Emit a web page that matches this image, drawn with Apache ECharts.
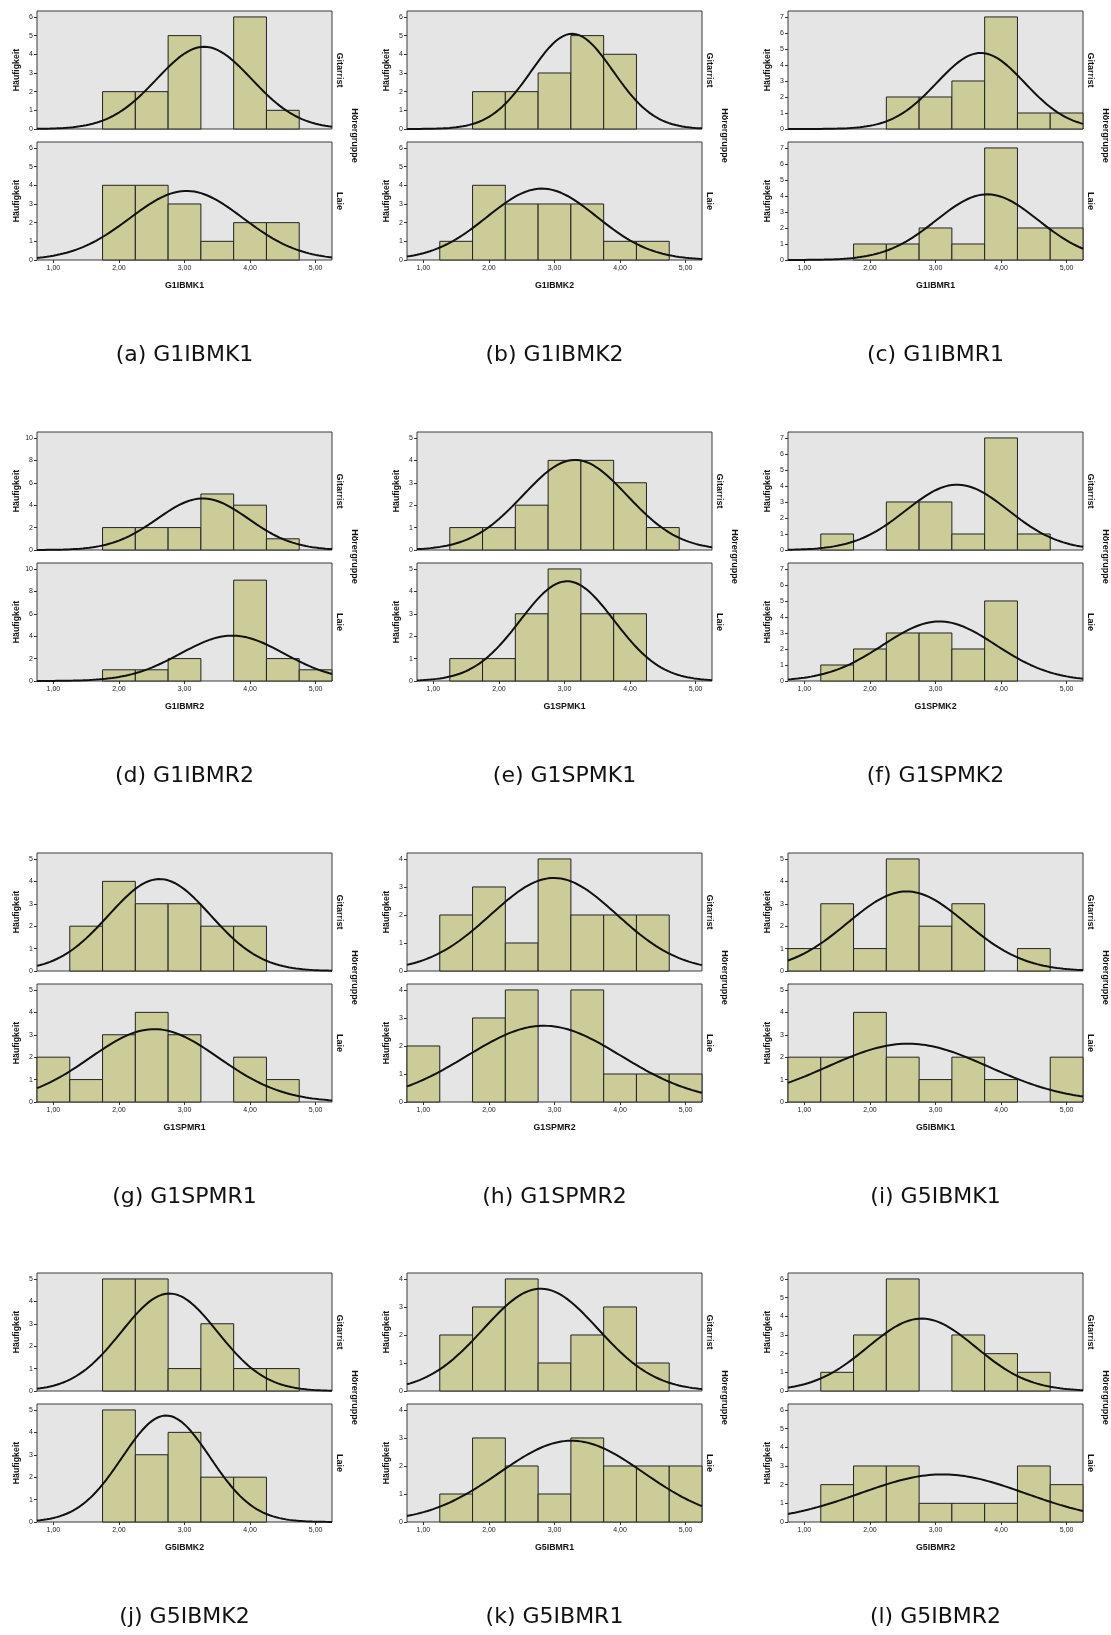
<!DOCTYPE html>
<html>
<head>
<meta charset="utf-8">
<script src="https://cdn.jsdelivr.net/npm/echarts@6/dist/echarts.min.js"></script>
<style>
html,body{margin:0;padding:0;background:#fff;}
#chart{width:1111px;height:1635px;}
</style>
</head>
<body>
<div id="chart"></div>
<script>
// ---------------- DATA ----------------
const binWidth = 0.5;
const binCenters = [1.0, 1.5, 2.0, 2.5, 3.0, 3.5, 4.0, 4.5, 5.0];
const xTickValues = [1, 2, 3, 4, 5];
const variableNames = ['G1IBMK1','G1IBMK2','G1IBMR1','G1IBMR2','G1SPMK1','G1SPMK2','G1SPMR1','G1SPMR2','G5IBMK1','G5IBMK2','G5IBMR1','G5IBMR2'];
const captionLetters = ['a','b','c','d','e','f','g','h','i','j','k','l'];
const groupNames = ['Gitarrist', 'Laie'];
const facetTitle = 'Hörergruppe';
const yAxisTitle = 'Häufigkeit';

const gitarristCounts = [
  [0,0,2,2,5,0,6,1,0],
  [0,0,2,2,3,5,4,0,0],
  [0,0,0,2,2,3,7,1,1],
  [0,0,2,2,2,5,4,1,0],
  [0,1,1,2,4,4,3,1,0],
  [0,1,0,3,3,1,7,1,0],
  [0,2,4,3,3,2,2,0,0],
  [0,2,3,1,4,2,2,2,0],
  [1,3,1,5,2,3,0,1,0],
  [0,0,5,5,1,3,1,1,0],
  [0,2,3,4,1,2,3,1,0],
  [0,1,3,6,0,3,2,1,0]
];
const laieCounts = [
  [0,0,4,4,3,1,2,2,0],
  [0,1,4,3,3,3,1,1,0],
  [0,0,1,1,2,1,7,2,2],
  [0,0,1,1,2,0,9,2,1],
  [0,1,1,3,5,3,3,0,0],
  [0,1,2,3,3,2,5,0,0],
  [2,1,3,4,3,0,2,1,0],
  [2,0,3,4,0,4,1,1,1],
  [2,2,4,2,1,2,1,0,2],
  [0,0,5,3,4,2,2,0,0],
  [0,1,3,2,1,3,2,2,2],
  [0,2,3,3,1,1,1,3,2]
];
// fitted normal curves (mean / standard deviation)
const gitarristMean = [3.30, 3.27, 3.69, 3.28, 3.16, 3.33, 2.62, 2.99, 2.56, 2.77, 2.79, 2.79];
const gitarristSD   = [0.725, 0.626, 0.672, 0.694, 0.794, 0.782, 0.778, 0.961, 0.899, 0.734, 0.874, 0.823];
const laieMean      = [3.03, 2.81, 3.79, 3.73, 3.04, 3.06, 2.54, 2.84, 2.58, 2.72, 3.26, 3.11];
const laieSD        = [0.863, 0.835, 0.778, 0.788, 0.717, 0.858, 0.982, 1.173, 1.227, 0.672, 1.10, 1.252];
// y axis top tick and step per chart
const yTickMax  = [6, 6, 7, 10, 5, 7, 5, 4, 5, 5, 4, 6];
const yTickStep = [1, 1, 1, 2, 1, 1, 1, 1, 1, 1, 1, 1];

// ---------------- LAYOUT ----------------
const plotLeft = [37, 407, 788, 37, 417, 788, 37, 407, 788, 37, 407, 788];
const plotWidth = 295;
const rowTop = [11, 432, 853, 1273];
const panelHeight = 118;
const panelOffset = 131;
const captionOffset = 343;

const FONT = '"Liberation Sans", Arial, sans-serif';
const BAR_FILL = '#cccc99';
const BAR_STROKE = '#222';
const PLOT_BG = '#e5e5e5';

const grids = [], xAxes = [], yAxes = [], series = [], graphics = [];

function normalCurve(mean, sd, n) {
  const pts = [];
  const k = n * binWidth / (sd * Math.sqrt(2 * Math.PI));
  for (let i = 0; i <= 180; i++) {
    const x = 0.75 + i * 0.025;
    const z = (x - mean) / sd;
    pts.push([x, k * Math.exp(-0.5 * z * z)]);
  }
  return pts;
}

for (let i = 0; i < 12; i++) {
  const r = Math.floor(i / 3);
  const left = plotLeft[i];
  const top0 = rowTop[r];
  const yTicks = [];
  for (let v = 0; v <= yTickMax[i]; v += yTickStep[i]) yTicks.push(v);

  for (let p = 0; p < 2; p++) {
    const idx = i * 2 + p;
    const gTop = top0 + (p ? panelOffset : 0);
    const counts = p ? laieCounts[i] : gitarristCounts[i];
    const mean = p ? laieMean[i] : gitarristMean[i];
    const sd = p ? laieSD[i] : gitarristSD[i];
    const n = counts.reduce((a, b) => a + b, 0);

    grids.push({
      left: left, top: gTop, width: plotWidth, height: panelHeight,
      show: true, backgroundColor: PLOT_BG, borderColor: '#3a3a3a', borderWidth: 1
    });
    xAxes.push({
      gridIndex: idx, type: 'value', min: 0.75, max: 5.25,
      splitLine: { show: false },
      axisLine: { show: false },
      axisTick: { show: p === 1, length: 3, customValues: xTickValues, lineStyle: { color: '#333' } },
      axisLabel: {
        show: p === 1, customValues: xTickValues, fontSize: 7, margin: 5, color: '#222', fontFamily: FONT,
        formatter: v => v.toFixed(2).replace('.', ',')
      },
      name: p === 1 ? variableNames[i] : '',
      nameLocation: 'middle', nameGap: 21,
      nameTextStyle: { fontSize: 8.8, fontWeight: 'bold', color: '#111', fontFamily: FONT }
    });
    yAxes.push({
      gridIndex: idx, type: 'value', min: 0, max: yTickMax[i] * 1.053,
      splitLine: { show: false },
      axisLine: { show: false },
      axisTick: { show: true, length: 3, customValues: yTicks, lineStyle: { color: '#333' } },
      axisLabel: { customValues: yTicks, fontSize: 7, margin: 4, color: '#222', fontFamily: FONT },
      name: yAxisTitle, nameLocation: 'middle', nameRotate: 90, nameGap: 16,
      nameTextStyle: { fontSize: 8.8, fontWeight: 'bold', color: '#111', fontFamily: FONT }
    });

    series.push({
      type: 'custom', xAxisIndex: idx, yAxisIndex: idx, z: 2,
      data: binCenters.map((c, k) => [c, counts[k]]).filter(d => d[1] > 0),
      renderItem: function (params, api) {
        const x = api.value(0), c = api.value(1);
        const p0 = api.coord([x - binWidth / 2, c]);
        const p1 = api.coord([x + binWidth / 2, 0]);
        return {
          type: 'rect',
          shape: { x: p0[0], y: p0[1], width: p1[0] - p0[0], height: p1[1] - p0[1] },
          style: { fill: BAR_FILL, stroke: BAR_STROKE, lineWidth: 1 }
        };
      }
    });
    series.push({
      type: 'line', xAxisIndex: idx, yAxisIndex: idx, z: 3,
      data: normalCurve(mean, sd, n),
      showSymbol: false, symbol: 'none', smooth: false,
      lineStyle: { color: '#111', width: 2 },
      silent: true
    });

    // facet label on the right
    graphics.push({
      type: 'text', x: left + plotWidth + 7, y: gTop + panelHeight / 2, rotation: -Math.PI / 2,
      style: {
        text: groupNames[p], font: 'bold 9px ' + FONT, fill: '#111',
        textAlign: 'center', textVerticalAlign: 'middle', align: 'center', verticalAlign: 'middle'
      }
    });
  }
  // facet title
  graphics.push({
    type: 'text', x: left + plotWidth + 22, y: top0 + (panelOffset + panelHeight) / 2, rotation: -Math.PI / 2,
    style: {
      text: facetTitle, font: 'bold 9px ' + FONT, fill: '#111',
      textAlign: 'center', textVerticalAlign: 'middle', align: 'center', verticalAlign: 'middle'
    }
  });
  // caption
  graphics.push({
    type: 'text', x: left + plotWidth / 2, y: top0 + captionOffset + 1,
    style: {
      text: '(' + captionLetters[i] + ') ' + variableNames[i],
      font: '22px "DejaVu Sans", sans-serif', fill: '#111',
      textAlign: 'center', textVerticalAlign: 'middle', align: 'center', verticalAlign: 'middle'
    }
  });
}

const chart = echarts.init(document.getElementById('chart'), null, { renderer: 'canvas' });
chart.setOption({
  animation: false,
  backgroundColor: '#ffffff',
  grid: grids,
  xAxis: xAxes,
  yAxis: yAxes,
  series: series,
  graphic: graphics
});
</script>
</body>
</html>
